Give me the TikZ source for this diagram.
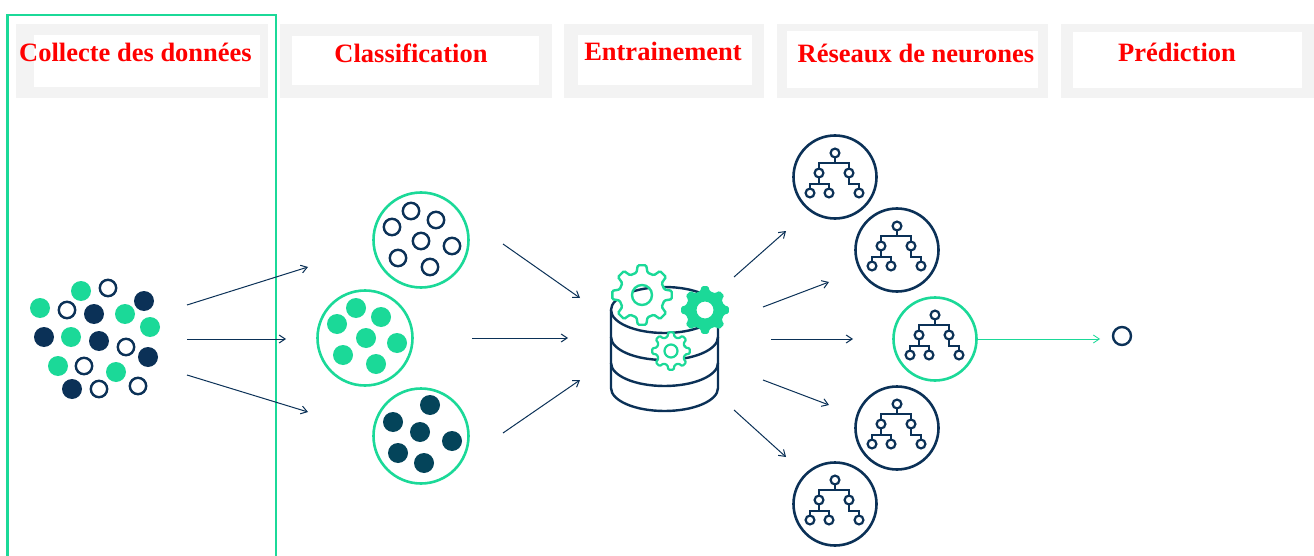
\documentclass[tikz,border=0pt]{standalone}
\usepackage{fontspec}
\setmainfont{Liberation Serif}
\usetikzlibrary{arrows.meta}
\definecolor{framegreen}{HTML}{1BD998}
\definecolor{navyblue}{HTML}{0B3157}
\definecolor{darkteal}{HTML}{04445A}
\definecolor{bandgray}{HTML}{F3F3F3}
\tikzset{
  title/.style={text=red,font=\bfseries\fontsize{26.5}{30}\selectfont,inner sep=0pt},
  flowarrow/.style={navyblue,line width=1pt,-{Straight Barb[length=6pt,width=8pt]}},
  groupring/.style={circle,draw=framegreen,line width=2.6pt,fill=white,minimum size=95pt,inner sep=0pt},
  treering/.style={circle,draw=navyblue,line width=2.6pt,fill=white,minimum size=83pt,inner sep=0pt},
  opendot/.style={draw=navyblue,line width=2.4pt,fill=white},
}
% Gear: centre x, centre y, outer, inner, hole, path options
\newcommand{\drawgear}[6]{
  \begin{scope}[shift={(#1,#2)}]
    \path[rounded corners=1.2pt,even odd rule,#6] (-14:#4)
      \foreach \ang in {0,45,...,315} {
        -- ({\ang-14}:#4) -- ({\ang-8}:#3) -- ({\ang+8}:#3) -- ({\ang+14}:#4)
      } -- cycle (0,0) circle [radius=#5];
  \end{scope}
}
% Small tree inside a ring
\newcommand{\treeicon}[2]{
  \begin{scope}[shift={(#1,#2)},navyblue,line width=2.2pt]
    \draw (0,-24) -- (0,-14) (-16,-4) |- (14,-14) -- (14,-4);
    \draw (-25,16) |- (-6,7) -- (-6,16) (-16,-4) -- (-16,7);
    \draw (14,-4) |- (24,7) -- (24,16);
    \foreach \x/\y in {0/-24,-16/-4,14/-4,-25/16,-6/16,24/16}
      \draw[fill=white] (\x,\y) circle [radius=4.4];
  \end{scope}
}
\begin{document}
\begin{tikzpicture}[x=1pt,y=-1pt]
\useasboundingbox (0,0) rectangle (1314,556);
% Header bands
\foreach \xa/\xb/\xc/\xd/\ya/\yb in {16/268/34/260/35/87,280/552/292/539/36/85,564/764/578/752/35/85,777/1048/787/1038/31/88,1061/1314/1073/1302/32/88} {
  \fill[bandgray] (\xa,24) rectangle (\xb,98);
  \fill[white] (\xc,\ya) rectangle (\xd,\yb);
}
% Frame around first column
\draw[framegreen,line width=2.4pt] (7.5,560) -- (7.5,15) -- (276,15) -- (276,560);
% Titles
\node[title] (titlecollect) at (135.5,52) {Collecte des données};
\node[title] (titleclass) at (411,53) {Classification};
\node[title] (titletrain) at (663,51) {Entrainement};
\node[title] (titlenet) at (916,53) {Réseaux de neurones};
\node[title] (titlepred) at (1177,52) {Prédiction};
% Raw data cluster
\foreach \x/\y in {81/291,40/308,125/314,150/327,71/337,58/366,116/372}
  \fill[framegreen] (\x,\y) circle [radius=10];
\foreach \x/\y in {144/301,94/314,44/337,99/341,148/357,72/389}
  \fill[navyblue] (\x,\y) circle [radius=10];
\foreach \x/\y in {108/288,67/310,126/347,84/366,99/389,138/386}
  \draw[opendot] (\x,\y) circle [radius=8.2];
% Sorted groups
\node[groupring] (groupopen) at (421,240) {};
\node[groupring] (groupgreen) at (365,338) {};
\node[groupring] (groupteal) at (421,436) {};
\foreach \x/\y in {411/211,392/227,436/220,421/241,452/246,398/258,430/267}
  \draw[opendot] (\x,\y) circle [radius=8.2];
\foreach \x/\y in {356/308,337/324,381/317,366/338,397/343,343/355,376/364}
  \fill[framegreen] (\x,\y) circle [radius=10];
\foreach \x/\y in {430/405,393/422,420/432,452/441,398/453,424/463}
  \fill[darkteal] (\x,\y) circle [radius=10];
% Arrows between columns
\foreach \n/\ax/\ay/\bx/\by in {a/187/305/308/267,b/187/339/286/339,c/187/375/308/412,
  d/503/244/580/298,e/472/338/568/338,f/503/433/580/380,
  g/734/277/786/231,h/763/307/829/282,i/771/339/853/339,j/763/380/829/405,k/734/410/786/457} {
  \coordinate (from\n) at (\ax,\ay);
  \coordinate (to\n) at (\bx,\by);
  \draw[flowarrow] (from\n) -- (to\n);
}
% Database
\draw[navyblue,line width=2.4pt,fill=white] (611,310) -- (611,388) arc [start angle=180,end angle=0,x radius=53.5,y radius=23] -- (718,310);
\draw[navyblue,line width=2.4pt] (664.5,310) ellipse [x radius=53.5,y radius=23];
\draw[navyblue,line width=2.4pt] (611,337) arc [start angle=180,end angle=0,x radius=53.5,y radius=23];
\draw[navyblue,line width=2.4pt] (611,363) arc [start angle=180,end angle=0,x radius=53.5,y radius=23];
% Gears
\drawgear{642}{295}{30}{23}{10}{draw=framegreen,line width=2.4pt,fill=white}
\drawgear{705}{310}{24}{19.5}{8.5}{fill=framegreen}
\drawgear{671}{351}{19}{14.5}{6.5}{draw=framegreen,line width=2.2pt,fill=white}
% Decision trees
\node[treering] (treea) at (835,177) {};
\node[treering] (treeb) at (897,250) {};
\node[treering,draw=framegreen] (treec) at (935,339) {};
\node[treering] (treed) at (897,428) {};
\node[treering] (treee) at (835,504) {};
\treeicon{835}{177}
\treeicon{897}{250}
\treeicon{935}{339}
\treeicon{897}{428}
\treeicon{835}{504}
% Output
\node[circle,draw=navyblue,line width=2.4pt,minimum size=18pt,inner sep=0pt] (result) at (1122,336) {};
\coordinate (resultin) at (1100,339);
\draw[framegreen,line width=0.8pt,-{Straight Barb[length=6pt,width=8pt]}] (treec.east) -- (resultin);
\end{tikzpicture}
\end{document}
